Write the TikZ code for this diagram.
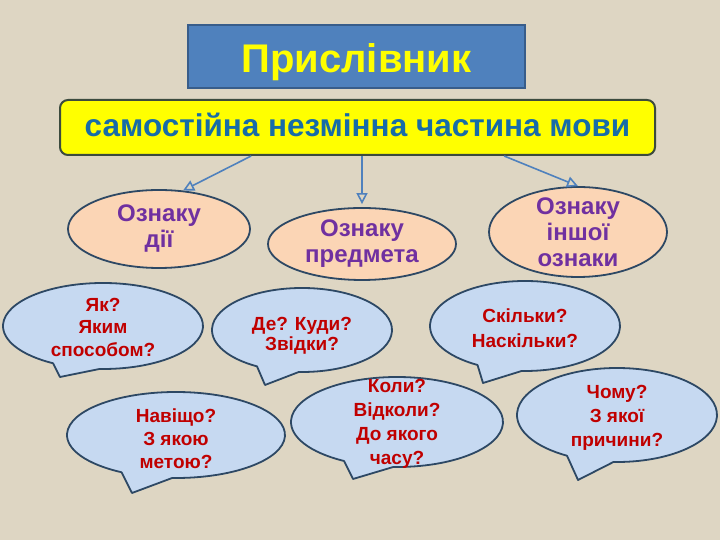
\documentclass[tikz,border=0pt]{standalone}
\usepackage{fontspec}
\setmainfont{Liberation Sans}
\usetikzlibrary{arrows.meta,shapes.geometric}
\definecolor{paper}{RGB}{222,214,195}
\definecolor{titleblue}{RGB}{79,129,189}
\definecolor{titleedge}{RGB}{56,93,138}
\definecolor{boxedge}{RGB}{60,75,62}
\definecolor{movablue}{RGB}{23,108,168}
\definecolor{peach}{RGB}{251,213,181}
\definecolor{darkedge}{RGB}{45,72,100}
\definecolor{plum}{RGB}{112,48,160}
\definecolor{bubblefill}{RGB}{198,217,241}
\definecolor{qred}{RGB}{192,0,0}
\definecolor{pureyellow}{RGB}{255,255,0}
\tikzset{
  oval/.style={ellipse, draw=darkedge, line width=1.8pt, fill=peach, text=plum,
    align=center, inner sep=-14pt},
  bubble/.style={draw=darkedge, line width=1.8pt, fill=bubblefill, line join=round},
  qtext/.style={text=qred, align=center, inner sep=0pt},
  down/.style={-{Triangle[open, length=11pt, width=11pt]}, draw=titleblue, line width=1.6pt},
}
\begin{document}
\begin{tikzpicture}[x=1pt, y=1pt]
  \fill[paper] (0,0) rectangle (720,540);
  \useasboundingbox (0,0) rectangle (720,540);
  % heading
  \node[draw=titleedge, line width=2pt, fill=titleblue, minimum width=337pt, minimum height=63pt,
    text height=36pt, text depth=3pt,
    text=pureyellow, font=\bfseries\fontsize{40}{42}\selectfont] (title) at (356.5,483.5) {Прислівник};
  \node[draw=boxedge, line width=2pt, fill=pureyellow, rounded corners=8pt, minimum width=595pt,
    minimum height=55pt, text height=27pt, text depth=8pt,
    text=movablue, font=\bfseries\fontsize{31.5}{33}\selectfont] (mova) at (357.5,412.5)
    {самостійна незмінна частина мови};
  % what it names
  \node[oval, minimum width=182pt, minimum height=78pt, font=\bfseries\fontsize{24}{26}\selectfont] (dii) at (159,311) {Ознаку\\дії};
  \node[oval, minimum width=188pt, minimum height=72pt, font=\bfseries\fontsize{24}{26}\selectfont] (predmet) at (362,296) {Ознаку\\предмета};
  \node[oval, minimum width=178pt, minimum height=90pt, font=\bfseries\fontsize{24}{26}\selectfont] (inshoi) at (578,308) {Ознаку\\іншої\\ознаки};
  \draw[down] (mova.195) -- (dii.58);
  \draw[down, shorten >=3pt] (mova.south -| predmet.north) -- (predmet.north);
  \draw[down] (mova.-11.7) -- (inshoi.north);
  % questions
  \foreach \nm/\cx/\cy/\rx/\ry/\px/\py/\ty/\sk/\txt in {
      jak/103/214/100/43/60/163/213/22.5/{Як?\\Яким\\способом?},
      de/302/210/90/42/265/155/204/20/{Де? Куди?\\Звідки?},
      skilky/525/214/95/45/483/157/212/25/{Скільки?\\Наскільки?},
      navishcho/176/105/109/43/132/47/101/23/{Навіщо?\\З якою\\метою?},
      koly/397/118/106/45/353/61/116/24/{Коли?\\Відколи?\\До якого\\часу?},
      chomu/617/125/100/47/578/60/122/24/{Чому?\\З якої\\причини?}} {
    \draw[bubble] (\cx,\cy) ++(268:\rx pt and \ry pt)
      arc[start angle=268, end angle=600, x radius=\rx pt, y radius=\ry pt] -- (\px,\py) -- cycle;
    \node[qtext, font=\bfseries\fontsize{19}{\sk}\selectfont] (\nm) at (\cx,\ty) {\txt};
  }
\end{tikzpicture}
\end{document}
